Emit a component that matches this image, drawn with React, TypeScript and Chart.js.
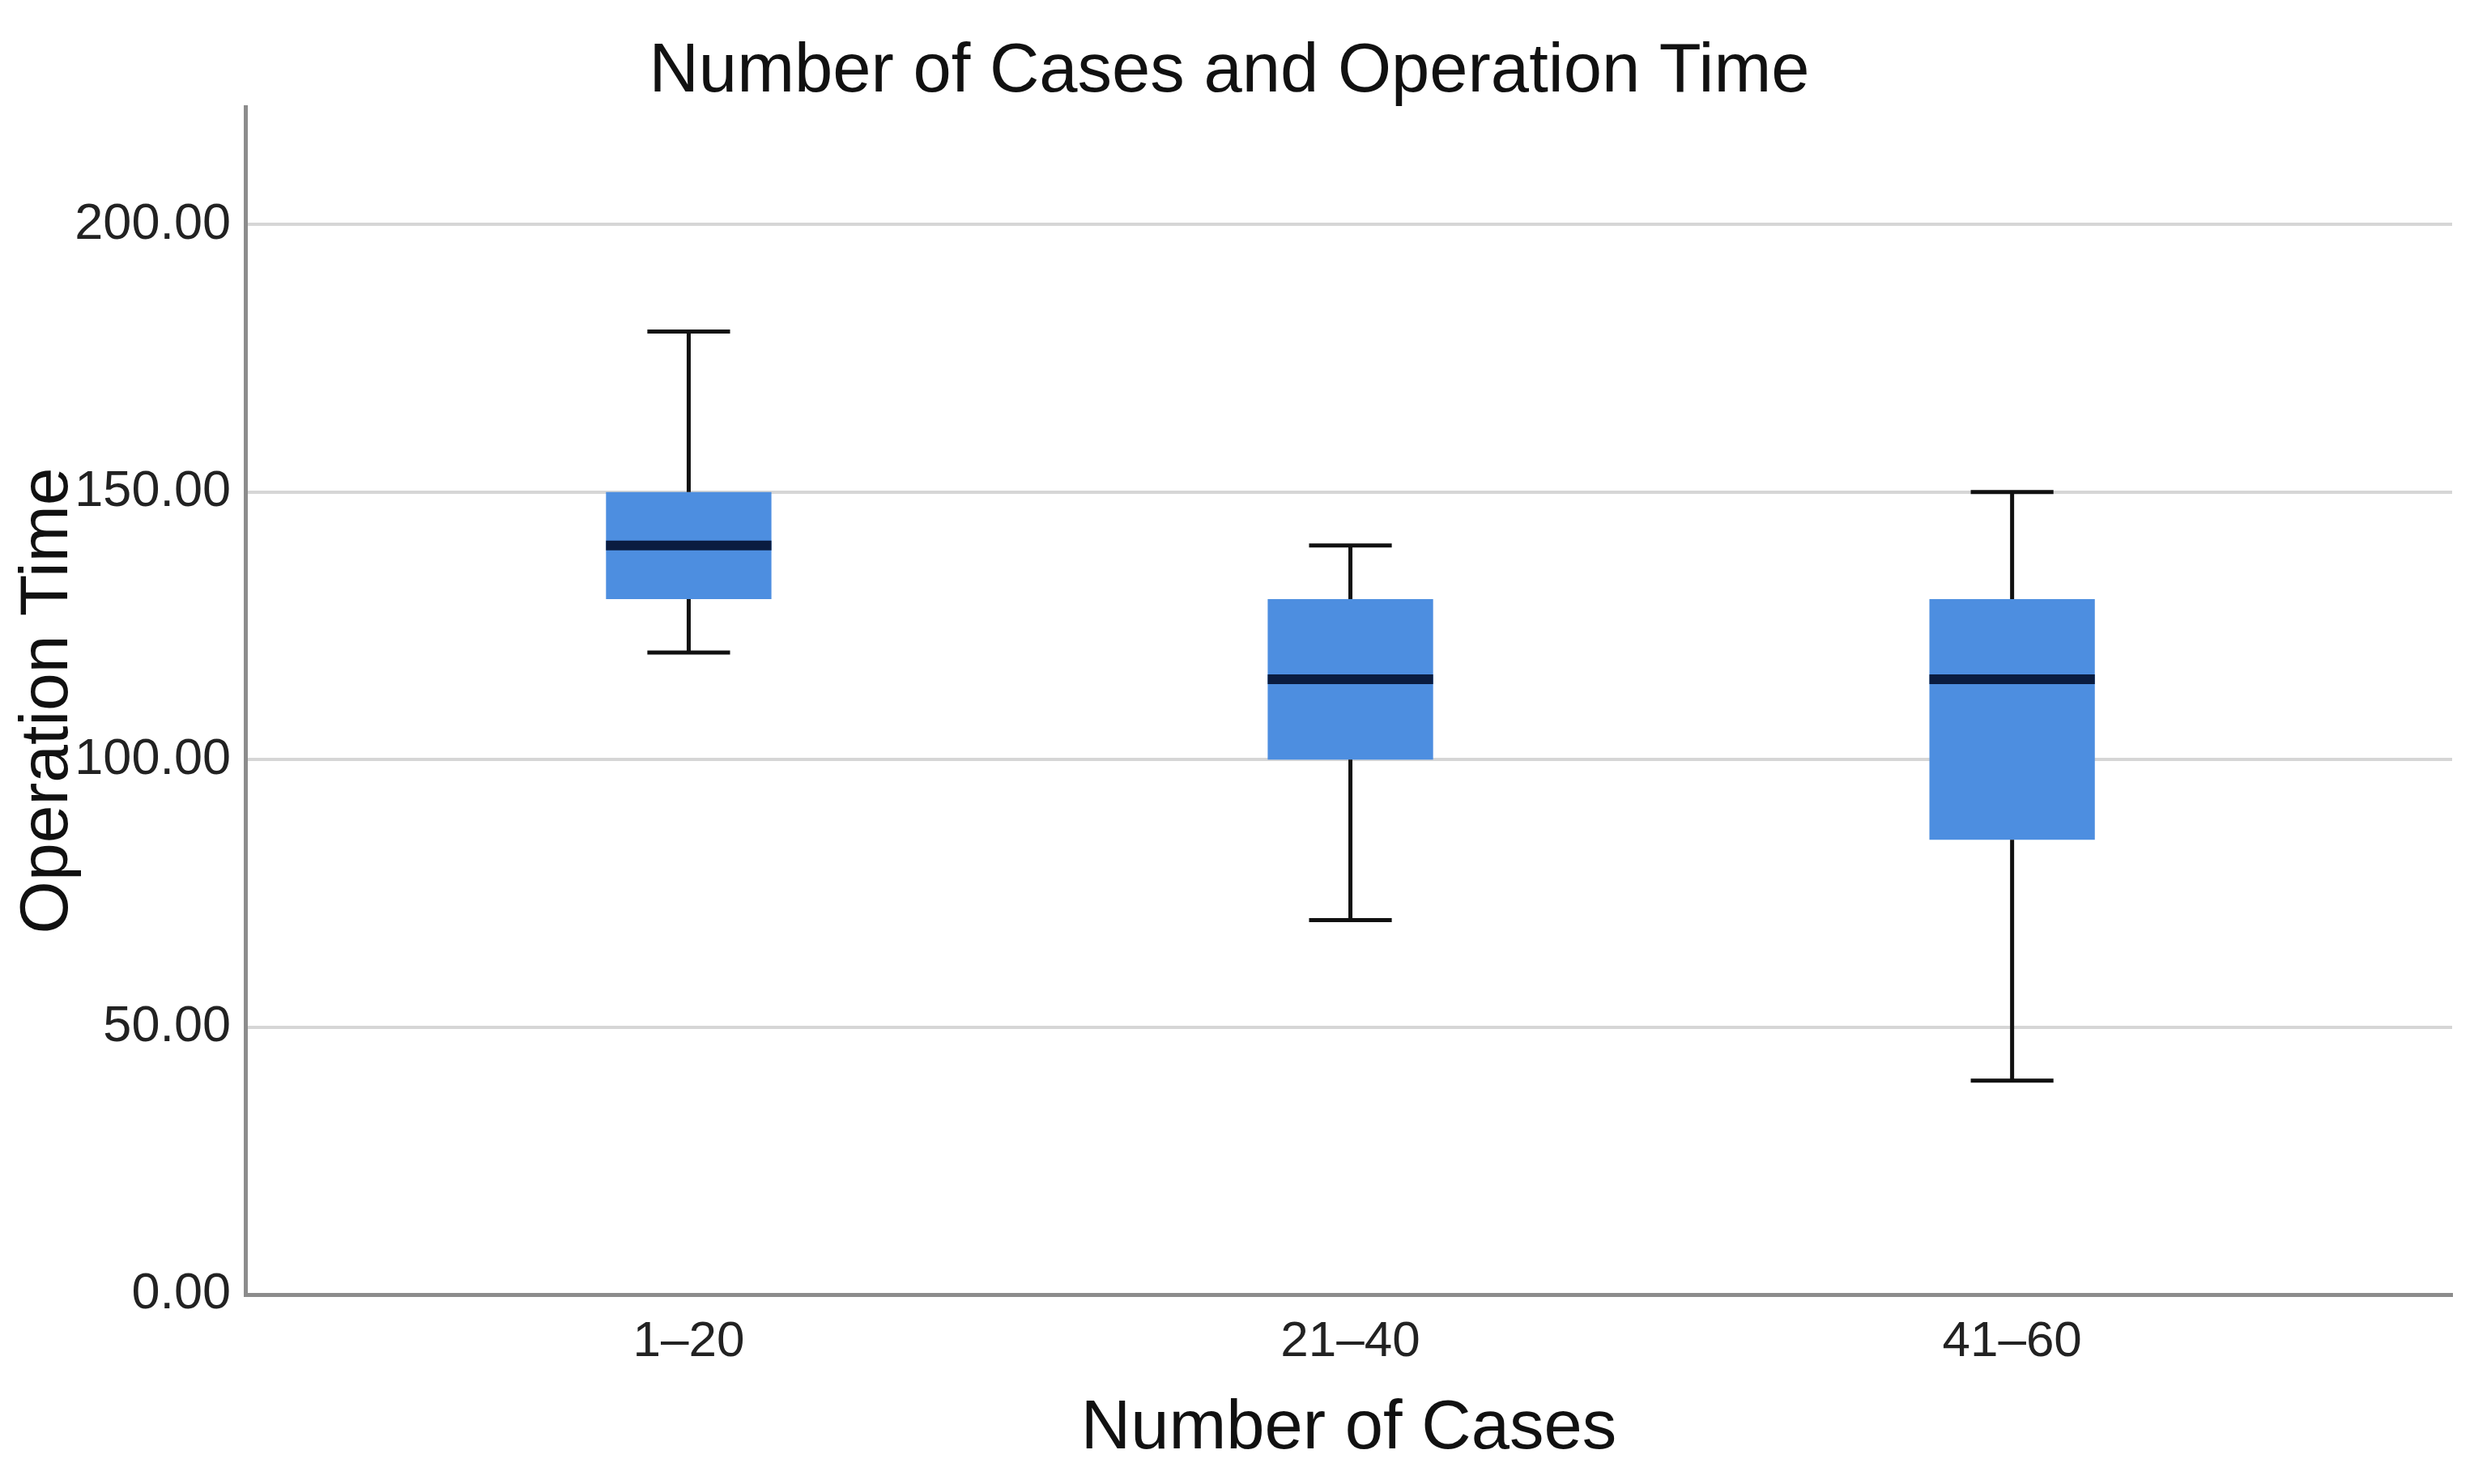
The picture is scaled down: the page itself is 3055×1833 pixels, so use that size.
import React, { useEffect, useRef } from "react";
import { Chart, registerables } from "chart.js";

Chart.register(...registerables);

const categories = ["1–20", "21–40", "41–60"];
const whiskerLow = [120, 70, 40];
const quartile1 = [130, 100, 85];
const medians = [140, 115, 115];
const quartile3 = [150, 130, 130];
const whiskerHigh = [180, 140, 150];
const yTickValues = [0, 50, 100, 150, 200];

const FONT = "'Liberation Sans', Arial, Helvetica, sans-serif";

const boxPlotPlugin = {
  id: "boxWhiskers",
  afterDatasetsDraw(chart: any) {
    const meta = chart.getDatasetMeta(0);
    const ys = chart.scales.y;
    const ctx = chart.ctx;
    ctx.save();
    meta.data.forEach((bar: any, i: number) => {
      const x = bar.x;
      const w = bar.width;
      const yMax = ys.getPixelForValue(whiskerHigh[i]);
      const yQ3 = ys.getPixelForValue(quartile3[i]);
      const yQ1 = ys.getPixelForValue(quartile1[i]);
      const yMin = ys.getPixelForValue(whiskerLow[i]);
      const yMed = ys.getPixelForValue(medians[i]);
      ctx.strokeStyle = "#111111";
      ctx.lineWidth = 5;
      ctx.lineCap = "butt";
      ctx.beginPath();
      ctx.moveTo(x, yMax);
      ctx.lineTo(x, yQ3);
      ctx.moveTo(x, yQ1);
      ctx.lineTo(x, yMin);
      ctx.moveTo(x - w / 4, yMax);
      ctx.lineTo(x + w / 4, yMax);
      ctx.moveTo(x - w / 4, yMin);
      ctx.lineTo(x + w / 4, yMin);
      ctx.stroke();
      ctx.strokeStyle = "#0a1c40";
      ctx.lineWidth = 12;
      ctx.beginPath();
      ctx.moveTo(x - w / 2, yMed);
      ctx.lineTo(x + w / 2, yMed);
      ctx.stroke();
    });
    ctx.restore();
  },
};

export default function App() {
  const canvasRef = useRef<HTMLCanvasElement | null>(null);

  useEffect(() => {
    if (!canvasRef.current) return;
    const chart = new Chart(canvasRef.current, {
      type: "bar",
      data: {
        datasets: [
          {
            label: "Operation Time",
            data: categories.map((_, i) => ({ x: i, y: [quartile1[i], quartile3[i]] })) as any,
            backgroundColor: "#4d8ee0",
            borderWidth: 0,
            barPercentage: 0.25,
            categoryPercentage: 1,
          },
        ],
      },
      options: {
        animation: false,
        responsive: false,
        devicePixelRatio: 1,
        layout: { padding: { left: 8, right: 27, top: 0, bottom: 16 } },
        plugins: {
          legend: { display: false },
          tooltip: { enabled: false },
          title: {
            display: true,
            text: "Number of Cases and Operation Time",
            color: "#111111",
            font: { family: FONT, size: 85, weight: "normal", lineHeight: 1.0 },
            padding: { top: 47, bottom: 0 },
          },
        },
        scales: {
          x: {
            type: "linear",
            offset: false,
            min: -0.67,
            max: 2.665,
            grid: { display: false },
            border: { display: true, color: "#8c8c8c", width: 5 },
            afterBuildTicks: (scale: any) => {
              scale.ticks = categories.map((_, i) => ({ value: i }));
            },
            afterFit: (scale: any) => {
              scale.height = 218;
            },
            ticks: {
              autoSkip: false,
              maxRotation: 0,
              padding: 14,
              color: "#222222",
              font: { family: FONT, size: 62 },
              callback: (v: any) => categories[Math.round(Number(v))] ?? "",
            },
            title: {
              display: true,
              text: "Number of Cases",
              color: "#111111",
              font: { family: FONT, size: 85, lineHeight: 1.2 },
              padding: { top: 0, bottom: 0 },
            },
          },
          y: {
            min: 0,
            max: 222,
            grid: { color: "#d6d6d6", lineWidth: 4, drawTicks: false },
            border: { display: true, color: "#8c8c8c", width: 5 },
            afterBuildTicks: (scale: any) => {
              scale.ticks = yTickValues.map((v) => ({ value: v }));
            },
            afterFit: (scale: any) => {
              scale.width = 295;
            },
            ticks: {
              padding: 18,
              color: "#222222",
              font: { family: FONT, size: 63 },
              callback: (v: any) => Number(v).toFixed(2),
            },
            title: {
              display: true,
              text: "Operation Time",
              color: "#111111",
              font: { family: FONT, size: 84, lineHeight: 1.2 },
              padding: { top: 1, bottom: 0 },
            },
          },
        },
      },
      plugins: [boxPlotPlugin],
    });
    return () => chart.destroy();
  }, []);

  return (
    <div style={{ position: "fixed", left: 0, top: 0, width: 3055, height: 1833, background: "#ffffff" }}>
      <canvas ref={canvasRef} width={3055} height={1833} style={{ display: "block", width: 3055, height: 1833 }} />
    </div>
  );
}
